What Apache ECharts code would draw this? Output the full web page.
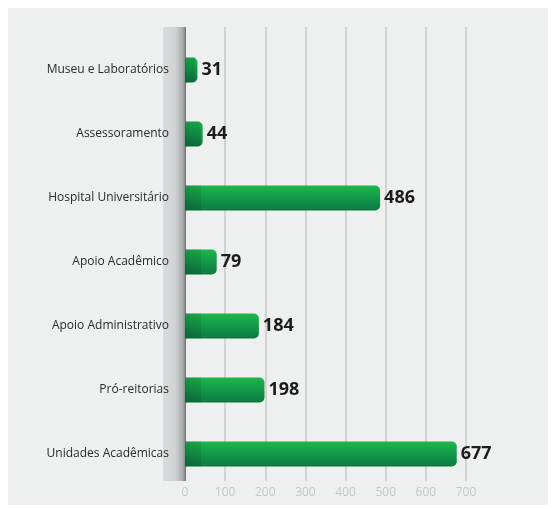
<!DOCTYPE html>
<html>
<head>
<meta charset="utf-8">
<script src="https://cdn.jsdelivr.net/npm/echarts@6/dist/echarts.min.js"></script>
<style>
  html, body { margin: 0; padding: 0; background: #fff; }
  #wrap { width: 556px; height: 509px; position: relative; }
  #chart { position: absolute; left: 8px; top: 8px; width: 540px; height: 497px; background: #eeefef; }
</style>
</head>
<body>
<div id="wrap"><div id="chart"></div></div>
<script>
// categories from bottom to top
const categories = ['Unidades Acadêmicas', 'Pró-reitorias', 'Apoio Administrativo', 'Apoio Acadêmico', 'Hospital Universitário', 'Assessoramento', 'Museu e Laboratórios']
const values = [677, 198, 184, 79, 486, 44, 31]
const ticks = [0, 100, 200, 300, 400, 500, 600, 700]

const chart = echarts.init(document.getElementById('chart'))

// darker strip at the root of each bar
function renderShade (params, api) {
  const start = api.coord([0, api.value(1)])
  const end = api.coord([api.value(0), api.value(1)])
  const h = 25
  const w = Math.min(16, end[0] - start[0] - 2)
  return {
    type: 'rect',
    shape: { x: start[0], y: start[1] - h / 2, width: w, height: h },
    style: {
      fill: new echarts.graphic.LinearGradient(0, 0, 1, 0, [
        { offset: 0, color: 'rgba(0,30,15,0.24)' },
        { offset: 0.4, color: 'rgba(0,30,15,0.15)' },
        { offset: 1, color: 'rgba(0,30,15,0.12)' }
      ])
    }
  }
}

const option = {
  animation: false,
  textStyle: { fontFamily: 'Open Sans' },
  grid: [
    { left: 177, top: 19, width: 281, height: 454 },
    { left: 177, top: 30, width: 281, height: 448 },
    { left: 166.5, top: 19, width: 10, height: 454 }
  ],
  xAxis: [{
    gridIndex: 0,
    type: 'value',
    min: ticks[0],
    max: ticks[ticks.length - 1],
    interval: 100,
    axisLine: { show: false },
    axisTick: { show: false },
    axisLabel: { color: '#c6c6c6', fontSize: 12, margin: 6 },
    splitLine: { lineStyle: { color: '#d2d2d2', width: 2 } }
  }, {
    gridIndex: 1,
    type: 'value',
    min: ticks[0],
    max: ticks[ticks.length - 1],
    show: false
  }, {
    gridIndex: 2,
    type: 'value',
    show: false
  }],
  yAxis: [{
    gridIndex: 0,
    type: 'category',
    data: categories,
    show: false
  }, {
    gridIndex: 1,
    type: 'category',
    data: categories,
    offset: 11,
    axisLine: { show: false },
    axisTick: { show: false },
    axisLabel: { color: '#2a2a2a', fontSize: 12, margin: 5 }
  }, {
    gridIndex: 2,
    type: 'category',
    data: categories,
    axisTick: { show: false },
    axisLabel: { show: false },
    axisLine: {
      lineStyle: {
        width: 23,
        cap: 'butt',
        color: new echarts.graphic.LinearGradient(155, 0, 178, 0, [
          { offset: 0, color: '#d9dbdc' },
          { offset: 0.55, color: '#cfd2d3' },
          { offset: 0.85, color: '#a9acad' },
          { offset: 0.95, color: '#8a8d8e' },
          { offset: 1, color: '#5f6263' }
        ], true)
      }
    }
  }],
  series: [{
    type: 'bar',
    xAxisIndex: 1,
    yAxisIndex: 1,
    data: values,
    barWidth: 25,
    z: 2,
    itemStyle: {
      borderRadius: [0, 5, 5, 0],
      color: new echarts.graphic.LinearGradient(0, 0, 0, 1, [
        { offset: 0, color: '#1db64e' },
        { offset: 0.5, color: '#14994a' },
        { offset: 1, color: '#0b7740' }
      ])
    },
    label: {
      show: true,
      position: 'right',
      distance: 4,
      color: '#1c1c1c',
      fontSize: 18,
      fontWeight: 'bold',
      fontFamily: 'Open Sans'
    }
  }, {
    type: 'custom',
    xAxisIndex: 1,
    yAxisIndex: 1,
    z: 3,
    silent: true,
    encode: { x: 0, y: 1 },
    data: values.map((v, i) => [v, i]),
    renderItem: renderShade
  }]
}

chart.setOption(option)
</script>
</body>
</html>
